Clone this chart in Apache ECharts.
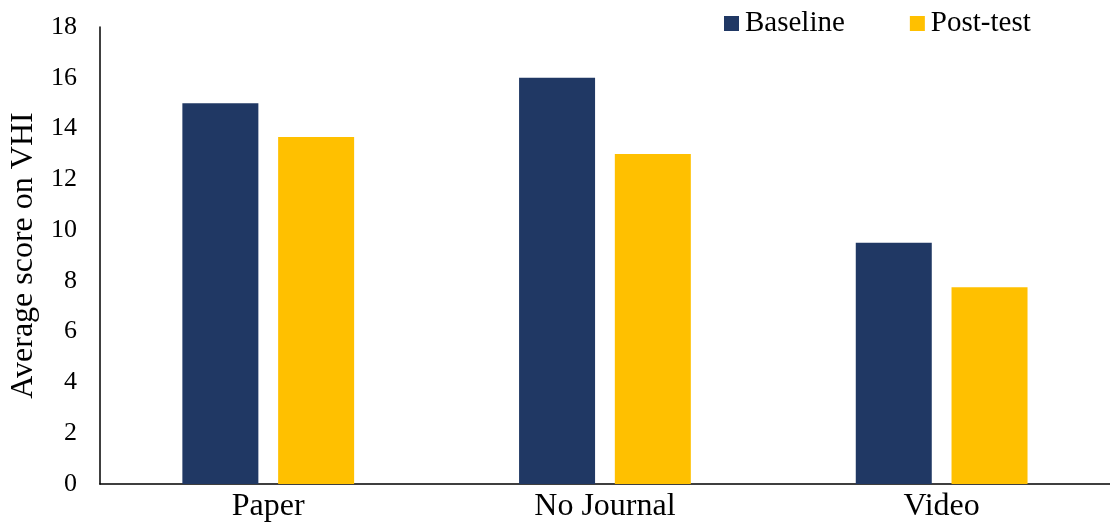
<!DOCTYPE html>
<html>
<head>
<meta charset="utf-8">
<script src="https://cdn.jsdelivr.net/npm/echarts@6/dist/echarts.min.js"></script>
<style>
  html, body { margin: 0; padding: 0; background: #fff; }
  #chart { width: 1110px; height: 527px; }
</style>
</head>
<body>
<div id="chart"></div>
<script>
// Average VHI score by journaling group
const categories = ['Paper', 'No Journal', 'Video'];
const baseline = [15, 16, 9.5];
const postTest = [13.67, 13, 7.75];
const yTicks = { min: 0, max: 18, interval: 2 };

const font = 'Liberation Serif, Times New Roman, serif';

const chart = echarts.init(document.getElementById('chart'));
chart.setOption({
  animation: false,
  textStyle: { fontFamily: font, color: '#000' },
  legend: {
    top: 4,
    left: 719,
    itemWidth: 15,
    itemHeight: 15,
    itemGap: 65,
    icon: 'rect',
    textStyle: { fontFamily: font, fontSize: 29, color: '#000', padding: [0, 0, 0, 1] },
    data: ['Baseline', 'Post-test']
  },
  grid: { left: 99, right: 0, top: 27, bottom: 43, containLabel: false },
  xAxis: {
    type: 'category',
    data: categories,
    axisLine: { show: true, lineStyle: { color: '#000', width: 1.5 } },
    axisTick: { show: false },
    axisLabel: { fontFamily: font, fontSize: 32, color: '#000', margin: 7 }
  },
  yAxis: {
    type: 'value',
    min: yTicks.min,
    max: yTicks.max,
    interval: yTicks.interval,
    name: 'Average score on VHI',
    nameLocation: 'middle',
    nameGap: 52,
    nameTextStyle: { fontFamily: font, fontSize: 32, color: '#000' },
    axisLine: { show: true, lineStyle: { color: '#000', width: 1.5 } },
    axisTick: { show: false },
    splitLine: { show: false },
    axisLabel: { fontFamily: font, fontSize: 26, color: '#000', margin: 23 }
  },
  series: [
    {
      name: 'Baseline',
      type: 'bar',
      data: baseline,
      barWidth: 76,
      barGap: '26%',
      itemStyle: { color: '#203864' }
    },
    {
      name: 'Post-test',
      type: 'bar',
      data: postTest,
      barWidth: 76,
      itemStyle: { color: '#FFC000' }
    }
  ]
});
</script>
</body>
</html>
